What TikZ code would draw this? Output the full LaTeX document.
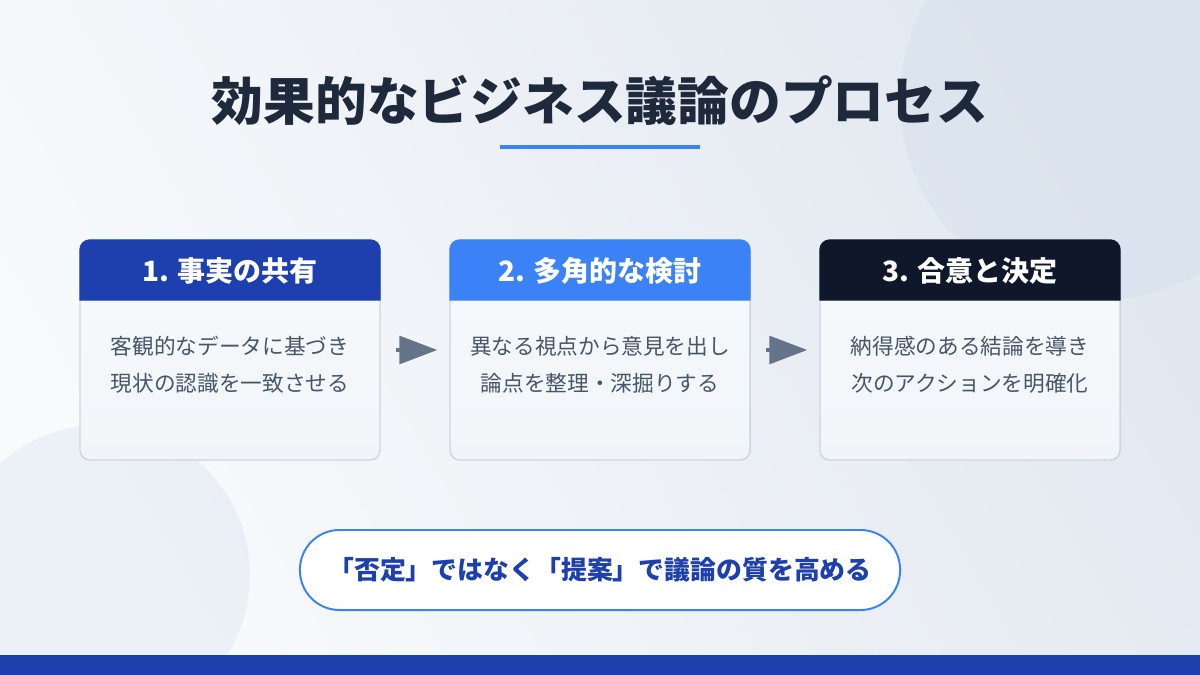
\documentclass[tikz,border=0pt]{standalone}
\usepackage{fontspec}
\setmainfont{Noto Sans CJK JP}
\usepackage{xcolor}
\usetikzlibrary{arrows.meta}

\definecolor{bgtop}{HTML}{F8FAFC}
\definecolor{bgbot}{HTML}{E2E8F0}
\definecolor{circ}{HTML}{D6E0EE}
\definecolor{titlecol}{HTML}{1E293B}
\definecolor{accent}{HTML}{3B82F6}
\definecolor{headA}{HTML}{1E40AF}
\definecolor{headB}{HTML}{3B82F6}
\definecolor{headC}{HTML}{0F172A}
\definecolor{bodycol}{HTML}{475569}
\definecolor{arrowcol}{HTML}{64748B}
\definecolor{cardline}{HTML}{CBD5E1}
\definecolor{cardbot}{HTML}{F1F5F9}

\begin{document}
\begin{tikzpicture}[x=0.025cm,y=-0.025cm,
  card/.style={draw=cardline, line width=1pt, rounded corners=7pt, minimum width=7.5cm, minimum height=5.5cm, top color=bgtop, bottom color=cardbot},
  headtxt/.style={text=white, font=\bfseries\fontsize{19.9}{22}\selectfont},
  bodytxt/.style={text=bodycol, align=center, font=\fontsize{15.4}{26.3}\selectfont},
  flow/.style={draw=arrowcol, line width=2.2pt, -{Triangle[length=0.95cm, width=0.7cm]}, shorten <=0.375cm, shorten >=0.3cm}]
\useasboundingbox (0,0) rectangle (1200,675);
% background
\shade[left color=bgtop, right color=bgbot, shading angle=120] (0,0) rectangle (1200,675);
\fill[circ, opacity=0.5] (1100,100) circle[radius=200];
\fill[circ, opacity=0.35] (100,575) circle[radius=150];
\fill[headA] (0,655) rectangle (1200,675);

\node[text=titlecol, font=\bfseries\fontsize{36.8}{40}\selectfont] (title) at (600,100) {効果的なビジネス議論のプロセス};
\node[fill=accent, minimum width=5cm, minimum height=0.09cm, inner sep=0pt] (rule) at (600,147) {};

% the three steps
\foreach \i/\cx/\col/\ttl/\la/\lb in {1/230/headA/{1. 事実の共有}/客観的なデータに基づき/現状の認識を一致させる,
    2/600/headB/{2. 多角的な検討}/異なる視点から意見を出し/論点を整理・深掘りする,
    3/970/headC/{3. 合意と決定}/納得感のある結論を導き/次のアクションを明確化}{
\node[card] (c\i) at (\cx,350) {};
\filldraw[\col, line width=1pt] ({\cx-150},300) [rounded corners=7pt]-- ({\cx-150},240) -- ({\cx+150},240) [sharp corners]-- ({\cx+150},300) -- cycle;
\node[headtxt] (h\i) at (\cx,271) {\ttl};
\node[bodytxt] (t\i) at (\cx,365) {\la\\\lb};
}
\draw[flow] (c1) -- (c2);
\draw[flow] (c2) -- (c3);

\node[draw=accent, line width=1.4pt, fill=white, rounded corners=0.99cm, minimum width=15cm, minimum height=2cm, text=headA, font=\bfseries\fontsize{18.4}{20}\selectfont] (msg) at (600,570) {「否定」ではなく「提案」で議論の質を高める};
\end{tikzpicture}
\end{document}
